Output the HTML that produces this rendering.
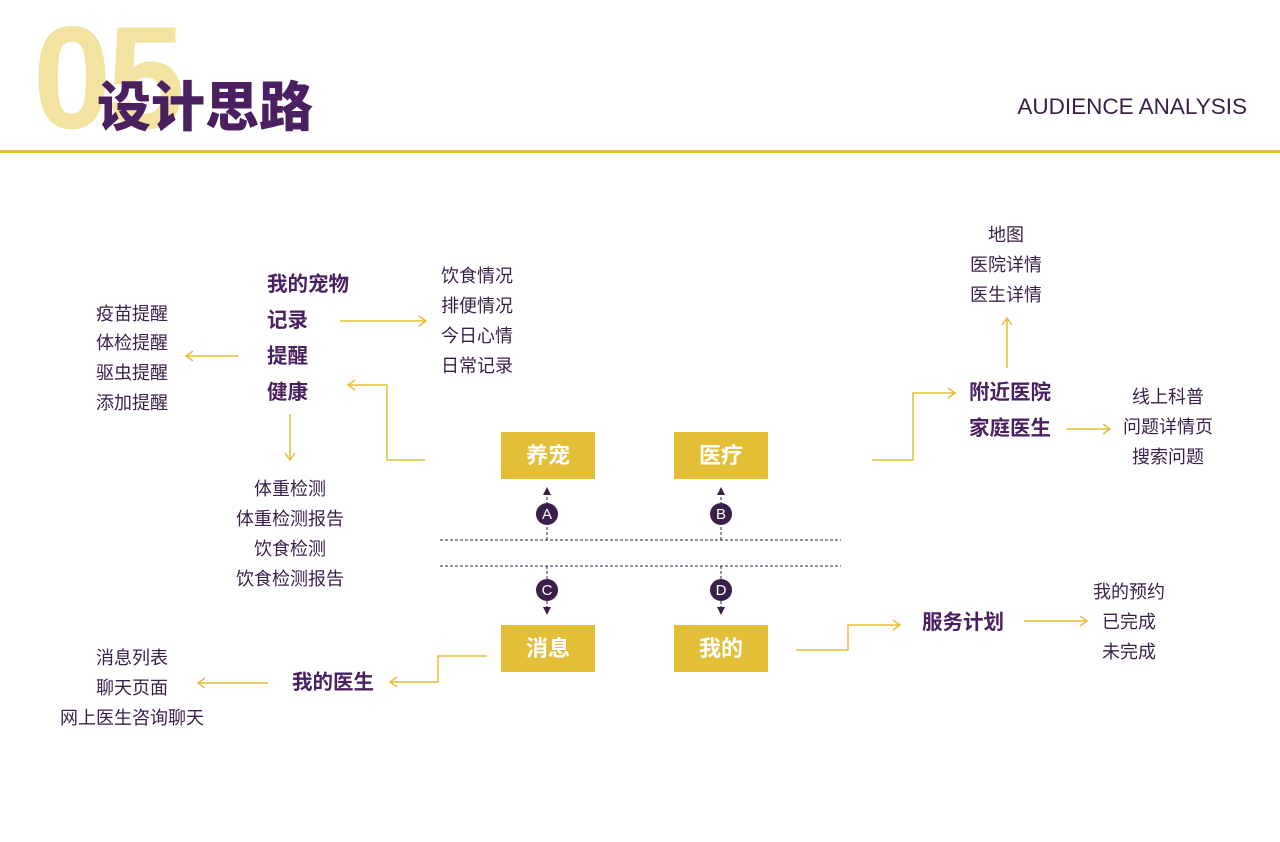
<!DOCTYPE html>
<html><head><meta charset="utf-8"><style>
html,body{margin:0;padding:0;background:#fff;}
body{width:1280px;height:842px;position:relative;overflow:hidden;font-family:"Liberation Sans","Noto Sans CJK SC",sans-serif;color:#3a1f4a;}
.t{position:absolute;font-size:18px;line-height:20px;white-space:nowrap;transform:translate(-50%,-50%);}
.l{position:absolute;font-size:18px;line-height:20px;white-space:nowrap;transform:translateY(-50%);}
.b{font-weight:bold;font-size:20.5px;color:#4a2060;}
.box{position:absolute;width:94px;height:47px;background:#e3bf38;color:#fff;font-weight:bold;font-size:22px;line-height:47px;text-align:center;}
</style></head><body>
<div style="position:absolute;left:33px;top:5px;font-size:146px;font-weight:bold;color:#f2e3a0;line-height:146px;transform:scaleX(0.96);transform-origin:left top;letter-spacing:-4px;">05</div>
<div style="position:absolute;left:97px;top:73px;font-size:54px;font-weight:900;color:#4a2060;line-height:60px;font-family:'Noto Sans CJK SC',sans-serif;">设计思路</div>
<div style="position:absolute;right:33px;top:94px;font-size:22.5px;color:#3a1f4a;line-height:26px;">AUDIENCE ANALYSIS</div>
<div style="position:absolute;left:0;top:150px;width:1280px;height:3px;background:#e3c03a;"></div>

<svg width="1280" height="842" style="position:absolute;left:0;top:0" fill="none">
<g stroke="#e6bd3a" stroke-width="1.5">
<path d="M340 321H426M419 316L426 321L419 326"/>
<path d="M238 356H186M193 351L186 356L193 361"/>
<path d="M290 414V460M285 453L290 460L295 453"/>
<path d="M425 460H387V385H348M355 380L348 385L355 390"/>
<path d="M872 460H913V393H955M948 388L955 393L948 398"/>
<path d="M1007 368V318M1002 325L1007 318L1012 325"/>
<path d="M1066 429H1110M1103 424L1110 429L1103 434"/>
<path d="M796 650H848V625H900M893 620L900 625L893 630"/>
<path d="M1024 621H1087M1080 616L1087 621L1080 626"/>
<path d="M487 656H438V682H390M397 677L390 682L397 687"/>
<path d="M268 683H198M205 678L198 683L205 688"/>
</g>
<g stroke="#3a1f4a" stroke-width="1" stroke-dasharray="3,2">
<path d="M440 540H841M440 566H841"/>
<path d="M547 540V492M721 540V492M547 566V610M721 566V610"/>
</g>
<g fill="#3a1f4a">
<path d="M543 495L547 487L551 495Z"/><path d="M717 495L721 487L725 495Z"/>
<path d="M543 607L547 615L551 607Z"/><path d="M717 607L721 615L725 607Z"/>
<circle cx="547" cy="514" r="11"/><circle cx="721" cy="514" r="11"/>
<circle cx="547" cy="590" r="11"/><circle cx="721" cy="590" r="11"/>
</g>
<g fill="#fff" font-family="Liberation Sans" font-size="15" text-anchor="middle">
<text x="547" y="519">A</text><text x="721" y="519">B</text>
<text x="547" y="595">C</text><text x="721" y="595">D</text>
</g>
</svg>

<div class="box" style="left:501px;top:432px;">养宠</div>
<div class="box" style="left:674px;top:432px;">医疗</div>
<div class="box" style="left:501px;top:625px;">消息</div>
<div class="box" style="left:674px;top:625px;">我的</div>

<div class="l b" style="left:267px;top:285px;">我的宠物</div>
<div class="l b" style="left:267px;top:321px;">记录</div>
<div class="l b" style="left:267px;top:357px;">提醒</div>
<div class="l b" style="left:267px;top:393px;">健康</div>

<div class="l" style="left:441px;top:276px;">饮食情况</div>
<div class="l" style="left:441px;top:306px;">排便情况</div>
<div class="l" style="left:441px;top:336px;">今日心情</div>
<div class="l" style="left:441px;top:366px;">日常记录</div>

<div class="l" style="left:96px;top:314px;">疫苗提醒</div>
<div class="l" style="left:96px;top:343px;">体检提醒</div>
<div class="l" style="left:96px;top:373px;">驱虫提醒</div>
<div class="l" style="left:96px;top:403px;">添加提醒</div>

<div class="t" style="left:290px;top:489px;">体重检测</div>
<div class="t" style="left:290px;top:519px;">体重检测报告</div>
<div class="t" style="left:290px;top:549px;">饮食检测</div>
<div class="t" style="left:290px;top:579px;">饮食检测报告</div>

<div class="t" style="left:1006px;top:235px;">地图</div>
<div class="t" style="left:1006px;top:265px;">医院详情</div>
<div class="t" style="left:1006px;top:295px;">医生详情</div>

<div class="l b" style="left:969px;top:393px;">附近医院</div>
<div class="l b" style="left:969px;top:429px;">家庭医生</div>

<div class="t" style="left:1168px;top:397px;">线上科普</div>
<div class="t" style="left:1168px;top:427px;">问题详情页</div>
<div class="t" style="left:1168px;top:457px;">搜索问题</div>

<div class="t b" style="left:963px;top:623px;">服务计划</div>
<div class="t" style="left:1129px;top:592px;">我的预约</div>
<div class="t" style="left:1129px;top:622px;">已完成</div>
<div class="t" style="left:1129px;top:652px;">未完成</div>

<div class="t b" style="left:333px;top:683px;">我的医生</div>
<div class="t" style="left:132px;top:658px;">消息列表</div>
<div class="t" style="left:132px;top:688px;">聊天页面</div>
<div class="t" style="left:132px;top:718px;">网上医生咨询聊天</div>
</body></html>
